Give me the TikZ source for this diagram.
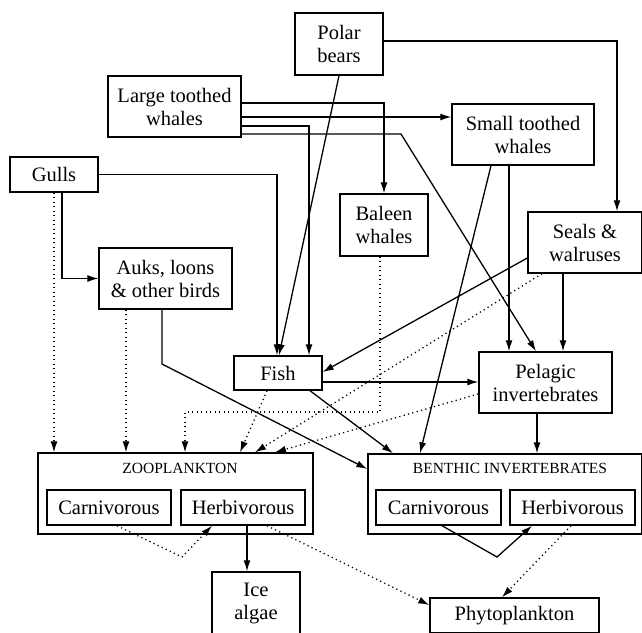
\documentclass[tikz,border=0pt]{standalone}
\usepackage{fontspec}
\setmainfont{Liberation Serif}
\usetikzlibrary{arrows.meta}
\begin{document}
\begin{tikzpicture}[x=1pt,y=-1pt,
  box/.style={draw,line width=1.4pt,inner sep=0pt,align=center,
    font=\rmfamily\fontsize{20.5}{23}\selectfont},
  biglabel/.style={inner sep=0pt,font=\rmfamily\fontsize{15.5}{17}\selectfont},
  link/.style={line width=1.3pt,-{Latex[length=11pt,width=7pt]}},
  dlink/.style={line width=1.3pt,dash pattern=on 1.2pt off 3.3pt,-{Latex[length=11pt,width=7pt]}}]
\useasboundingbox (0,0) rectangle (642,632);
\node[box,minimum width=88pt,minimum height=62pt] (pb) at (339,44) {Polar\\bears};
\node[box,minimum width=133pt,minimum height=61pt] (ltw) at (174.5,106.5) {Large toothed\\whales};
\node[box,minimum width=88pt,minimum height=35pt] (gulls) at (54,174.5) {Gulls};
\node[box,minimum width=142pt,minimum height=61pt] (stw) at (523,134.5) {Small toothed\\whales};
\node[box,minimum width=88pt,minimum height=62pt] (baleen) at (384,225) {Baleen\\whales};
\node[box,minimum width=114pt,minimum height=61pt] (seals) at (585,242.5) {Seals \&\\walruses};
\node[box,minimum width=133pt,minimum height=61pt] (auks) at (165.5,278.5) {Auks, loons\\\& other birds};
\node[box,minimum width=88pt,minimum height=34pt] (fish) at (278,373) {Fish};
\node[box,minimum width=133pt,minimum height=61pt] (pel) at (545.5,382.5) {Pelagic\\invertebrates};
\node[box,minimum width=275pt,minimum height=81pt] (zoo) at (175.5,493.5) {};
\node[biglabel] (zool) at (180,468) {ZOOPLANKTON};
\node[box,minimum width=124pt,minimum height=35pt] (zc) at (109,507.5) {Carnivorous};
\node[box,minimum width=124pt,minimum height=35pt] (zh) at (243,507.5) {Herbivorous};
\node[box,minimum width=274pt,minimum height=80pt] (ben) at (505,494) {};
\node[biglabel] (benl) at (510,468) {BENTHIC INVERTEBRATES};
\node[box,minimum width=125pt,minimum height=35pt] (bc) at (438.5,507.5) {Carnivorous};
\node[box,minimum width=125pt,minimum height=35pt] (bh) at (572.5,507.5) {Herbivorous};
\node[box,minimum width=88pt,minimum height=62pt] (ice) at (256,603) {Ice\\algae};
\node[box,minimum width=169pt,minimum height=35pt] (phy) at (514.5,615.5) {Phytoplankton};
% solid links
\draw[link] (pb.east |- 0,41) -| (617,0 |- seals.north);
\draw[link] (339,0 |- pb.south) -- (279,0 |- fish.north);
\draw[link] (ltw.east |- 0,103) -| (baleen.north);
\draw[link] (ltw.east |- 0,117) -- (stw.west |- 0,117);
\draw[link] (ltw.east |- 0,126) -| (309,0 |- fish.north);
\draw[link] (ltw.east |- 0,134) -- (401,134) -- (536,0 |- pel.north);
\draw[link] (gulls.east) -| (277,0 |- fish.north);
\draw[link] (62,0 |- gulls.south) |- (auks.west);
\draw[link] (491,0 |- stw.south) -- (420,0 |- ben.north);
\draw[link] (509,0 |- stw.south) -- (509,0 |- pel.north);
\draw[link] (563,0 |- seals.south) -- (563,0 |- pel.north);
\draw[link] (seals.west |- 0,258) -- (fish.east |- 0,372);
\draw[link] (162,0 |- auks.south) -- (162,364) -- (ben.west |- 0,469);
\draw[link] (fish.east |- 0,382) -- (pel.west |- 0,382);
\draw[link] (310,0 |- fish.south) -- (393,0 |- ben.north);
\draw[link] (537,0 |- pel.south) -- (537,0 |- ben.north);
\draw[link] (247,0 |- zh.south) -- (247,0 |- ice.north);
\draw[link] (442,0 |- bc.south) -- (497,557) -- (532,0 |- bh.south);
% dotted links
\draw[dlink] (gulls.south) -- (gulls.south |- zoo.north);
\draw[dlink] (542,0 |- seals.south) -- (255,0 |- zoo.north);
\draw[dlink] (380,0 |- baleen.south) -- (380,412) -| (185,0 |- zoo.north);
\draw[dlink] (126,0 |- auks.south) -- (126,0 |- zoo.north);
\draw[dlink] (267,0 |- fish.south) -- (240,0 |- zoo.north);
\draw[dlink] (pel.west |- 0,394) -- (275,0 |- zoo.north);
\draw[dlink] (117,0 |- zc.south) -- (182,557) -- (212,0 |- zh.south);
\draw[dlink] (267,0 |- zh.south) -- (phy.west |- 0,605);
\draw[dlink] (571,0 |- bh.south) -- (502,0 |- phy.north);
\end{tikzpicture}
\end{document}
